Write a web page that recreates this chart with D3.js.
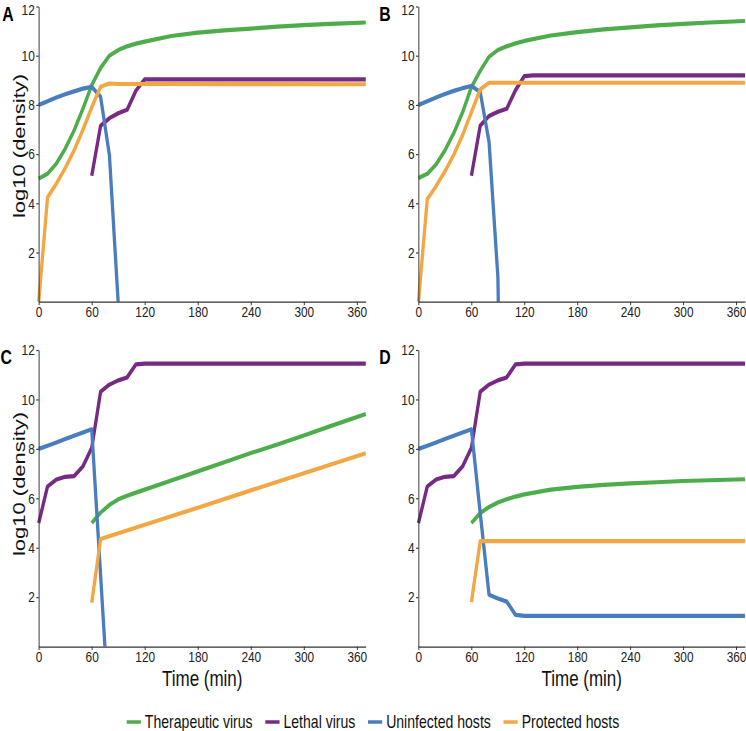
<!DOCTYPE html>
<html>
<head>
<meta charset="utf-8">
<title>Therapeutic and lethal virus dynamics</title>
<style>
  body { margin: 0; background: #fff; }
  svg { display: block; font-family: "Liberation Sans", Arial, Helvetica, sans-serif; }
  .axis path, .axis line { stroke: #333; stroke-width: 1.2; }
  .axis text { fill: #222; font-size: 15px; font-family: "Liberation Sans", Arial, sans-serif; }
</style>
</head>
<body>
<script src="https://d3js.org/d3.v7.min.js"></script>
<script>
// values, [time (min), log10 density]
var A_therapeutic = [[0,5.0],[10,5.2],[20,5.62],[30,6.22],[40,6.96],[50,7.84],[60,8.8],[70,9.5],[80,10.0],[90,10.23],[100,10.38],[110,10.49],[120,10.57],[150,10.8],[180,10.94],[210,11.03],[240,11.1],[270,11.18],[300,11.24],[330,11.29],[370,11.35]];
var A_lethal = [[60,5.12],[70,7.15],[80,7.46],[90,7.66],[100,7.8],[110,8.58],[120,9.04],[130,9.04],[370,9.04]];
var A_uninfected = [[0,8.0],[10,8.15],[20,8.3],[30,8.43],[40,8.55],[50,8.66],[60,8.73],[70,8.33],[80,5.96],[90,-0.1]];
var A_protected = [[0,0],[10,4.24],[20,4.8],[30,5.43],[40,6.15],[50,6.99],[60,7.9],[70,8.74],[80,8.87],[90,8.85],[370,8.84]];

var B_therapeutic = [[0,5.03],[10,5.2],[20,5.58],[30,6.15],[40,6.85],[50,7.7],[60,8.72],[70,9.39],[80,9.96],[90,10.23],[100,10.38],[110,10.5],[120,10.6],[150,10.82],[180,10.96],[210,11.07],[240,11.15],[270,11.23],[300,11.29],[330,11.35],[370,11.41]];
var B_lethal = [[60,5.12],[70,7.16],[80,7.55],[90,7.72],[100,7.84],[110,8.6],[120,9.17],[130,9.2],[370,9.2]];
var B_uninfected = [[0,8.0],[10,8.15],[20,8.3],[30,8.44],[40,8.57],[50,8.68],[60,8.77],[70,8.52],[80,6.49],[90,1.0],[100,-20]];
var B_protected = [[0,0],[10,4.17],[20,4.7],[30,5.3],[40,5.97],[50,6.77],[60,7.7],[70,8.63],[80,8.9],[370,8.9]];

var C_therapeutic = [[60,5.0],[70,5.42],[80,5.73],[90,5.96],[100,6.1],[110,6.23],[120,6.35],[150,6.72],[180,7.09],[210,7.46],[240,7.83],[270,8.18],[300,8.54],[330,8.92],[370,9.41]];
var C_lethal = [[0,5.0],[10,6.48],[20,6.76],[30,6.87],[40,6.9],[50,7.29],[60,8.04],[70,10.31],[80,10.6],[90,10.77],[100,10.89],[110,11.42],[120,11.45],[370,11.45]];
var C_uninfected = [[0,8.0],[10,8.13],[20,8.26],[30,8.4],[40,8.53],[50,8.66],[60,8.79],[70,2.9],[80,-3]];
var C_protected = [[60,1.78],[70,4.35],[120,4.93],[180,5.62],[240,6.32],[300,7.01],[370,7.82]];

var D_therapeutic = [[60,5.0],[70,5.4],[80,5.65],[90,5.83],[100,5.96],[110,6.07],[120,6.16],[150,6.35],[180,6.46],[210,6.54],[240,6.6],[270,6.65],[300,6.7],[330,6.73],[370,6.77]];
var D_lethal = [[0,5.0],[10,6.48],[20,6.76],[30,6.87],[40,6.9],[50,7.29],[60,8.04],[70,10.31],[80,10.6],[90,10.77],[100,10.89],[110,11.42],[120,11.45],[370,11.45]];
var D_uninfected = [[0,8.0],[10,8.13],[20,8.26],[30,8.4],[40,8.53],[50,8.66],[60,8.79],[70,5.4],[80,2.1],[90,1.95],[100,1.82],[110,1.28],[120,1.24],[370,1.24]];
var D_protected = [[60,1.8],[70,4.27],[370,4.27]];

var seriesNames = ["Therapeutic virus", "Lethal virus", "Uninfected hosts", "Protected hosts"];
var seriesColors = ["#4dad4a", "#762a83", "#4a7dbe", "#f2a644"];
var xTicks = [0, 60, 120, 180, 240, 300, 360];
var yTicks = [2, 4, 6, 8, 10, 12];

// the source figure is squeezed horizontally, so draw in a wider space and scale x
var squeeze = 0.79;
var W = 746, H = 731;
var innerW = W / squeeze;

var svg = d3.select("body").append("svg")
    .attr("width", W)
    .attr("height", H)
    .attr("viewBox", `0 0 ${innerW} ${H}`)
    .attr("preserveAspectRatio", "none");

var panels = [
    {id: "A", left: 49, right: 463, top: 6.5, bottom: 301.7, data: [A_therapeutic, A_lethal, A_uninfected, A_protected], ylab: 146, xlab: false, lx: 3, ly: 21},
    {id: "B", left: 529.7, right: 943, top: 6.5, bottom: 301.7, data: [B_therapeutic, B_lethal, B_uninfected, B_protected], ylab: null, xlab: false, lx: 480, ly: 21},
    {id: "C", left: 49, right: 463, top: 350, bottom: 646.6, data: [C_therapeutic, C_lethal, C_uninfected, C_protected], ylab: 484, xlab: true, lx: 0.5, ly: 364},
    {id: "D", left: 529.7, right: 943, top: 350, bottom: 646.6, data: [D_therapeutic, D_lethal, D_uninfected, D_protected], ylab: null, xlab: true, lx: 480, ly: 364}
];

panels.forEach(function(p, i) {
    var x = d3.scaleLinear().domain([0, 370]).range([p.left, p.right]);
    var y = d3.scaleLinear().domain([0, 12]).range([p.bottom, p.top]);

    // lines that drop below zero get cut at the x axis
    svg.append("clipPath")
        .attr("id", "clip" + p.id)
        .append("rect")
        .attr("x", p.left - 8)
        .attr("y", p.top - 10)
        .attr("width", p.right - p.left + 16)
        .attr("height", p.bottom - p.top + 10);

    var line = d3.line()
        .x(d => x(d[0]))
        .y(d => y(d[1]));

    var g = svg.append("g").attr("clip-path", "url(#clip" + p.id + ")");
    p.data.forEach(function(s, k) {
        g.append("path")
            .datum(s)
            .attr("d", line)
            .attr("fill", "none")
            .attr("stroke", seriesColors[k])
            .attr("stroke-width", 4.2)
            .attr("stroke-linejoin", "round");
    });

    svg.append("g")
        .attr("class", "axis")
        .attr("transform", "translate(0," + p.bottom + ")")
        .call(d3.axisBottom(x).tickValues(xTicks).tickSize(3.5).tickPadding(1.5).tickSizeOuter(0));

    var yAxis = svg.append("g")
        .attr("class", "axis")
        .attr("transform", "translate(" + p.left + ",0)")
        .call(d3.axisLeft(y).tickValues(yTicks).tickSize(3).tickPadding(2).tickSizeOuter(0));

    // keep the top label inside the page on the upper row
    if (p.top < 20) {
        yAxis.selectAll(".tick text").filter(d => d == 12).attr("dy", "0.5em");
    }

    svg.append("text")
        .attr("x", p.lx)
        .attr("y", p.ly)
        .style("font-size", "20px")
        .style("font-weight", "bold")
        .text(p.id);

    if (p.ylab) {
        svg.append("text")
            .attr("transform", "translate(31.6," + p.ylab + ") rotate(-90)")
            .attr("text-anchor", "middle")
            .style("font-size", "22px")
            .style("fill", "#111")
            .text("log10 (density)");
    }
    if (p.xlab) {
        svg.append("text")
            .attr("x", (p.left + p.right) / 2)
            .attr("y", 686)
            .attr("text-anchor", "middle")
            .style("font-size", "21.5px")
            .style("fill", "#111")
            .text("Time (min)");
    }
});

// legend, centred under the panels
var legend = svg.append("g").attr("class", "legend");
var pos = 0;
seriesNames.forEach(function(name, k) {
    var item = legend.append("g").attr("transform", "translate(" + pos + ",0)");
    item.append("line")
        .attr("x1", 0).attr("x2", 18)
        .attr("y1", 722).attr("y2", 722)
        .attr("stroke", seriesColors[k])
        .attr("stroke-width", 3.5);
    var t = item.append("text")
        .attr("x", 23)
        .attr("y", 728)
        .style("font-size", "17.8px")
        .style("fill", "#111")
        .text(name);
    pos += 23 + t.node().getComputedTextLength() + 16;
});
pos -= 16;
legend.attr("transform", "translate(" + (innerW / 2 - pos / 2) + ",0)");
</script>
</body>
</html>
